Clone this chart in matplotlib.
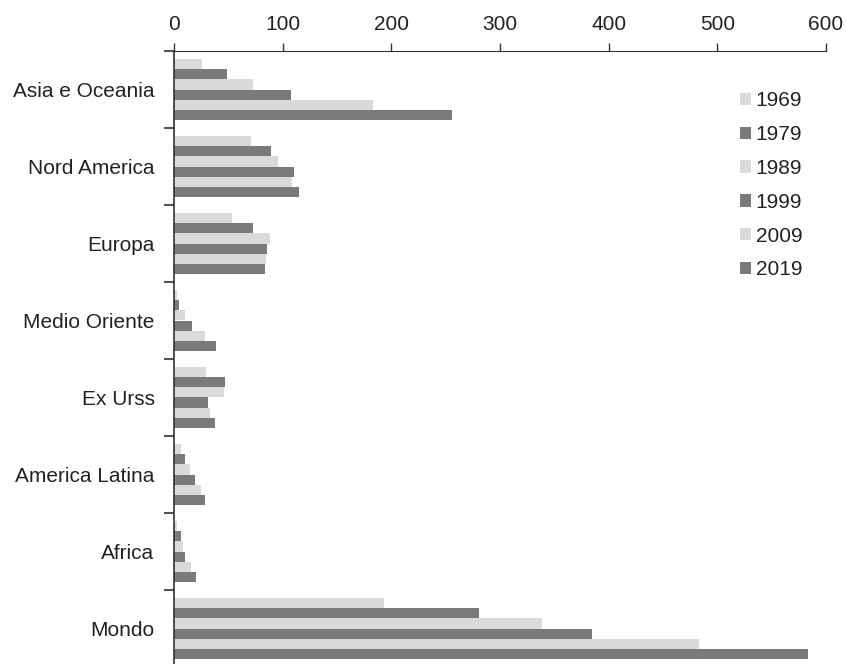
import numpy as np
import matplotlib
matplotlib.use("Agg")
import matplotlib.pyplot as plt

plt.rcParams['font.family'] = ['Liberation Sans', 'DejaVu Sans']

regions = ["Asia e Oceania", "Nord America", "Europa", "Medio Oriente",
           "Ex Urss", "America Latina", "Africa", "Mondo"]
years = ["1969", "1979", "1989", "1999", "2009", "2019"]

v1969 = [26, 71, 53, 2.5, 29.5, 6, 2.5, 193]
v1979 = [48.5, 89.5, 73, 5, 47, 10.5, 6, 281]
v1989 = [73, 95.5, 88.5, 10.5, 46, 14.5, 8.5, 339]
v1999 = [108, 110.5, 86, 17, 31, 19, 10.5, 385]
v2009 = [183, 109, 85, 28.5, 33.5, 25, 15.5, 483]
v2019 = [256, 115, 83.5, 38.5, 38, 28.5, 20.5, 583]
series = [v1969, v1979, v1989, v1999, v2009, v2019]

light = '#dadada'
dark = '#7a7a7a'
colors = [light, dark, light, dark, light, dark]

fig = plt.figure(figsize=(8.46, 6.64), dpi=100)
# axes: x 174..826 px, top at y=51 px
ax = fig.add_axes([174 / 846, -3 / 664, 652 / 846, 616 / 664])

n = len(years)
bar_h = 0.8 / n
y = np.arange(len(regions))
for i, (vals, yr) in enumerate(zip(series, years)):
    offs = -0.4 + bar_h * (i + 0.5)
    ax.barh(y + offs, vals, height=bar_h, color=colors[i], label=yr,
            edgecolor='none')

ax.set_xlim(0, 600)
ax.set_ylim(len(regions) - 0.5, -0.5)
ax.xaxis.tick_top()
ax.set_xticks(range(0, 601, 100))
ax.tick_params(axis='x', direction='out', length=6, width=1, color='#333333',
               labelsize=15, pad=6, labelcolor='#222222')

ax.set_yticks(y)
ax.set_yticklabels(regions)
ax.tick_params(axis='y', which='major', length=0, labelsize=15, pad=14,
               labelcolor='#222222')
ax.set_yticks(np.arange(-0.5, len(regions) + 0.5, 1), minor=True)
ax.tick_params(axis='y', which='minor', direction='out', length=7, width=1.5,
               color='#555555')

for s in ['right', 'bottom']:
    ax.spines[s].set_visible(False)
ax.spines['top'].set_color('#333333')
ax.spines['left'].set_color('#333333')
ax.spines['left'].set_linewidth(1.2)

leg = ax.legend(loc='upper left', bbox_to_anchor=(730 / 846, 1 - 81 / 664),
                bbox_transform=fig.transFigure, frameon=False,
                fontsize=15, handlelength=0.53, handleheight=0.53,
                handletextpad=0.2, labelspacing=0.71, borderpad=0,
                labelcolor='#222222')

fig.savefig("out.png", dpi=100)
